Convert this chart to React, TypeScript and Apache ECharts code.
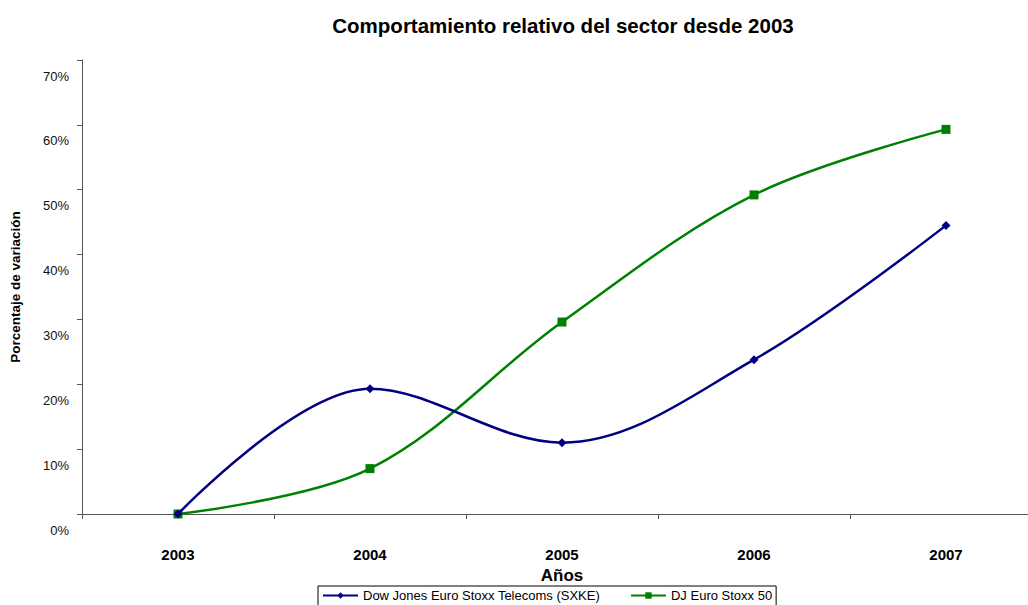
import React, { useEffect, useRef } from "react";
import * as echarts from "echarts";

const years = ["2003", "2004", "2005", "2006", "2007"];
const sxke = [0, 19.3, 11.0, 23.8, 44.5];
const stoxx50 = [0, 7.0, 29.6, 49.2, 59.3];
const yTicks = { min: 0, max: 70, interval: 10 };

const FONT = "'Liberation Sans', Arial, sans-serif";

export default function App() {
  const ref = useRef<HTMLDivElement>(null);
  useEffect(() => {
    if (!ref.current) return;
    const chart = echarts.init(ref.current, undefined, { renderer: "svg" });
    chart.setOption({
      animation: false,
      textStyle: { fontFamily: FONT },
      graphic: [
        {
          type: "text",
          x: 563,
          y: 25,
          style: {
            text: "Comportamiento relativo del sector desde 2003",
            font: `bold 20.5px ${FONT}`,
            fill: "#000",
            align: "center",
            verticalAlign: "middle",
          },
        },
      ],
      legend: {
        left: 318,
        top: 586,
        orient: "horizontal",
        borderColor: "#000",
        borderWidth: 1,
        borderRadius: 0,
        padding: [3, 4, 14, 4],
        itemWidth: 35,
        itemHeight: 8,
        itemGap: 30,
        textStyle: { fontFamily: FONT, fontSize: 13, color: "#000" },
        data: ["Dow Jones Euro Stoxx Telecoms (SXKE)", "DJ Euro Stoxx 50"],
      },
      grid: { left: 82, top: 60, bottom: 91, width: 960, outerBoundsMode: "none", containLabel: false },
      xAxis: {
        type: "category",
        data: years,
        boundaryGap: true,
        name: "Años",
        nameLocation: "middle",
        nameGap: 50,
        nameTextStyle: { fontFamily: FONT, fontSize: 17, fontWeight: "bold", color: "#000", verticalAlign: "top" },
        axisLine: { lineStyle: { color: "#555", width: 1 } },
        axisTick: { show: true, alignWithLabel: false, length: 5, lineStyle: { color: "#555" } },
        axisLabel: {
          margin: 33,
          fontFamily: FONT,
          fontSize: 15,
          fontWeight: "bold",
          color: "#000",
        },
        splitLine: { show: false },
      },
      yAxis: {
        type: "value",
        min: yTicks.min,
        max: yTicks.max,
        interval: yTicks.interval,
        name: "Porcentaje de variación",
        nameLocation: "middle",
        nameGap: 60,
        nameRotate: 90,
        nameTextStyle: { fontFamily: FONT, fontSize: 13.5, fontWeight: "bold", color: "#000" },
        axisLine: { show: true, lineStyle: { color: "#555", width: 1 } },
        axisTick: { show: true, length: 5, lineStyle: { color: "#555" } },
        splitLine: { show: false },
        axisLabel: {
          margin: 13,
          fontFamily: FONT,
          fontSize: 13,
          color: "#111",
          verticalAlign: "top",
          lineHeight: 32,
          formatter: (v: number) => `${v}%`,
        },
      },
      series: [
        {
          name: "Dow Jones Euro Stoxx Telecoms (SXKE)",
          type: "line",
          data: sxke,
          smooth: 0.35,
          symbol: "diamond",
          symbolSize: 9,
          itemStyle: { color: "#000080" },
          lineStyle: { color: "#000080", width: 2.5 },
          z: 3,
        },
        {
          name: "DJ Euro Stoxx 50",
          type: "line",
          data: stoxx50,
          smooth: 0.35,
          symbol: "rect",
          symbolSize: 9,
          itemStyle: { color: "#008000" },
          lineStyle: { color: "#008000", width: 2.5 },
          z: 2,
        },
      ],
    });
    return () => chart.dispose();
  }, []);
  return <div ref={ref} style={{ width: 1028, height: 605, position: "absolute", left: 0, top: 0 }} />;
}
